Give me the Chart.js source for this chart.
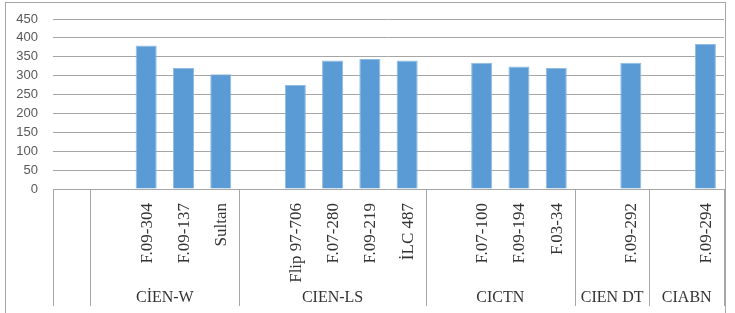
<!DOCTYPE html>
<html lang="en">
<head>
    <meta charset="UTF-8">
    <title>Bar chart</title>
    <script src="https://cdnjs.cloudflare.com/ajax/libs/Chart.js/4.4.1/chart.umd.min.js"></script>
    <style>
        body {
            margin: 0;
            background: #ffffff;
            overflow: hidden;
        }

        #frame {
            position: absolute;
            left: 5px;
            top: 2px;
            width: 719px;
            height: 320px;
            border: 1px solid #a6a6a6;
        }

        canvas {
            display: block;
        }
    </style>
</head>
<body>
    <div id="frame">
        <canvas id="chart" width="719" height="310"></canvas>
    </div>

    <script>
        // categories, blanks are the empty slots of the original sheet
        var categories = ['', '', 'F.09-304', 'F.09-137', 'Sultan', '', 'Flip 97-706', 'F.07-280', 'F.09-219', 'İLC 487',
                          '', 'F.07-100', 'F.09-194', 'F.03-34', '', 'F.09-292', '', 'F.09-294'];
        var values = [null, null, 380, 320, 304, null, 275, 340, 344, 340,
                      null, 334, 324, 320, null, 334, null, 384];
        var groupNames = ['', 'CİEN-W', 'CIEN-LS', 'CICTN', 'CIEN DT', 'CIABN'];
        var groupSizes = [1, 4, 5, 4, 2, 2];
        var yTicks = [0, 50, 100, 150, 200, 250, 300, 350, 400, 450];

        var lineColor = '#a6a6a6';
        var textColor = '#333333';

        // draws the two level category axis under the bars
        var groupAxis = {
            id: 'groupAxis',
            afterDraw: function(chart) {
                var ctx = chart.ctx;
                var x = chart.scales.x;
                var area = chart.chartArea;
                var slot = (x.right - x.left) / categories.length;
                var bottom = 303;

                ctx.save();
                ctx.strokeStyle = lineColor;
                ctx.lineWidth = 1;
                ctx.fillStyle = textColor;

                // category labels, rotated
                ctx.font = '17px "Liberation Serif", "Times New Roman", serif';
                ctx.textAlign = 'right';
                ctx.textBaseline = 'middle';
                categories.forEach(function(name, i) {
                    if (!name) return;
                    var cx = x.getPixelForValue(i);
                    ctx.save();
                    ctx.translate(cx + 1, area.bottom + 14);
                    ctx.rotate(-Math.PI / 2);
                    ctx.fillText(name, 0, 0);
                    ctx.restore();
                });

                // group separators and names
                ctx.font = '16px "Liberation Serif", "Times New Roman", serif';
                ctx.textAlign = 'center';
                var start = 0;
                var edges = [0];
                groupSizes.forEach(function(size, g) {
                    var l = x.left + start * slot;
                    var r = x.left + (start + size) * slot;
                    if (groupNames[g]) {
                        ctx.fillText(groupNames[g], (l + r) / 2, 295);
                    }
                    start += size;
                    edges.push(start);
                });
                edges.forEach(function(e) {
                    var px = Math.round(x.left + e * slot) + 0.5;
                    ctx.beginPath();
                    ctx.moveTo(px, area.bottom);
                    ctx.lineTo(px, bottom);
                    ctx.stroke();
                });
                ctx.restore();
            }
        };

        new Chart(document.getElementById('chart'), {
            type: 'bar',
            data: {
                labels: categories,
                datasets: [{
                    data: values,
                    backgroundColor: '#5b9bd5',
                    borderColor: '#8fbbe4',
                    borderWidth: 1,
                    categoryPercentage: 1,
                    barPercentage: 0.565
                }]
            },
            options: {
                responsive: false,
                animation: false,
                layout: {
                    padding: { top: 16, right: 1, left: 0, bottom: 0 }
                },
                plugins: {
                    legend: { display: false },
                    tooltip: { enabled: false }
                },
                scales: {
                    x: {
                        grid: { display: false },
                        border: { display: false },
                        ticks: { display: false },
                        afterFit: function(s) {
                            s.height = 124;
                            s.paddingLeft = 0;
                            s.paddingRight = 0;
                        }
                    },
                    y: {
                        min: 0,
                        max: 450,
                        afterBuildTicks: function(s) {
                            s.ticks = yTicks.map(function(v) { return { value: v }; });
                        },
                        afterFit: function(s) {
                            s.width = 47;
                            s.paddingTop = 0;
                            s.paddingBottom = 0;
                        },
                        border: { display: false },
                        grid: { color: lineColor, drawTicks: false },
                        ticks: {
                            stepSize: 50,
                            autoSkip: false,
                            padding: 15,
                            color: '#595959',
                            font: { family: '"Liberation Sans", Arial, sans-serif', size: 13 }
                        }
                    }
                }
            },
            plugins: [groupAxis]
        });
    </script>
</body>
</html>
